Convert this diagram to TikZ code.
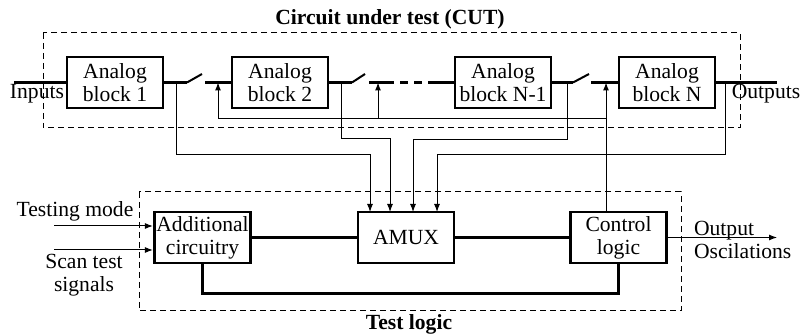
\documentclass[tikz,border=0pt]{standalone}
\usepackage{fontspec}
\setmainfont{Liberation Serif}
\usetikzlibrary{arrows.meta}
\newcommand\diafont{\fontsize{10.8}{11.5}\selectfont}

\begin{document}
\begin{tikzpicture}[x=0.5pt,y=-0.5pt,font=\diafont]

\tikzset{block/.style = {draw, line width=1.4pt, minimum width=48pt, minimum height=25.5pt, align=center, inner sep=1pt}}
\tikzset{bus/.style = {line width=1.4pt}}
\tikzset{sig/.style = {line width=0.5pt}}
\tikzset{edge/.style = {sig, -{Latex[length=4pt,width=3pt]}}}
\tikzset{switch/.style = {line width=1pt}}
\tikzset{frame/.style = {line width=0.5pt, dash pattern=on 3pt off 2pt}}
\useasboundingbox (0,0) rectangle (801,335);

%frames
\draw[frame] (43,33) rectangle (740,128);
\draw[frame] (139,192) rectangle (681,311);
\node[font=\diafont\bfseries] (cutlbl) at (390,19) {Circuit under test (CUT)};
\node[font=\diafont\bfseries] (tllbl) at (409,324) {Test logic};

%blocks
\node[block] (b1) at (115,82.5) {Analog\\block 1};
\node[block] (b2) at (280,82.5) {Analog\\block 2};
\node[block] (bN1) at (503,82.5) {Analog\\block N-1};
\node[block] (bN) at (667,82.5) {Analog\\block N};
\node[block] (add) at (202.5,237.5) {Additional\\circuitry};
\node[block] (amux) at (406,237.5) {AMUX};
\node[block] (ctrl) at (618.5,237.5) {Control\\logic};

%points
\coordinate (in) at (14,82.5);
\coordinate (out) at (777,82.5);
\coordinate (t1) at (176,82.5);
\coordinate (p1) at (187,82.5);
\coordinate (q1) at (202,74);
\coordinate (c1) at (205,82.5);
\coordinate (a1) at (218,82.5);
\coordinate (t2) at (341,82.5);
\coordinate (p2) at (352,82.5);
\coordinate (q2) at (365,74);
\coordinate (c2) at (369,82.5);
\coordinate (a2) at (378,82.5);
\coordinate (d1) at (386,82.5);
\coordinate (d2) at (436,82.5);
\coordinate (t3) at (567,82.5);
\coordinate (p3) at (573,82.5);
\coordinate (q3) at (589,74);
\coordinate (c3) at (591,82.5);
\coordinate (a3) at (606,82.5);
\coordinate (t4) at (725,82.5);
\coordinate (fb) at (606,119);
\coordinate (m1) at (370,212);
\coordinate (m2) at (390,212);
\coordinate (m3) at (413,212);
\coordinate (m4) at (437,212);
\coordinate (tm) at (54,226);
\coordinate (st) at (54,250);
\coordinate (osc) at (777,237.5);

%signal path
\draw[bus] (in) -- (b1.west);
\draw[bus] (b1.east) -- (p1);
\draw[switch] (p1) -- (q1);
\draw[bus] (c1) -- (b2.west);
\draw[bus] (b2.east) -- (p2);
\draw[switch] (p2) -- (q2);
\draw[bus] (c2) -- (d1);
\draw[bus, dash pattern=on 4pt off 3pt] (d1) -- (d2);
\draw[bus] (d2) -- (bN1.west);
\draw[bus] (bN1.east) -- (p3);
\draw[switch] (p3) -- (q3);
\draw[bus] (c3) -- (bN.west);
\draw[bus] (bN.east) -- (out);
\node (inlbl) at (37,94) {Inputs};
\node (outlbl) at (766,94) {Outputs};

%switch control
\draw[edge] (ctrl.north -| a3) -- (a3);
\draw[edge] (fb) -| (a1);
\draw[edge] (fb -| a2) -- (a2);

%taps to AMUX
\draw[edge] (t1) -- ++(0,72) -| (m1);
\draw[edge] (t2) -- ++(0,56) -| (m2);
\draw[edge] (t3) -- ++(0,57) -| (m3);
\draw[edge] (t4) -- ++(0,72) -| (m4);

%test logic
\draw[edge] (tm) -- (tm -| add.west);
\draw[edge] (st) -- (st -| add.west);
\node (tmlbl) at (75,211) {Testing mode};
\node[align=center] (stlbl) at (84,275) {Scan test\\signals};
\draw[bus] (add) -- (amux);
\draw[bus] (amux) -- (ctrl);
\draw[bus] (add.south) -- ++(0,29) -| (ctrl.south);
\draw[edge] (ctrl.east) -- (osc);
\node[align=left, anchor=west] (osclbl) at (687,240) {Output\\Oscilations};

\end{tikzpicture}
\end{document}
